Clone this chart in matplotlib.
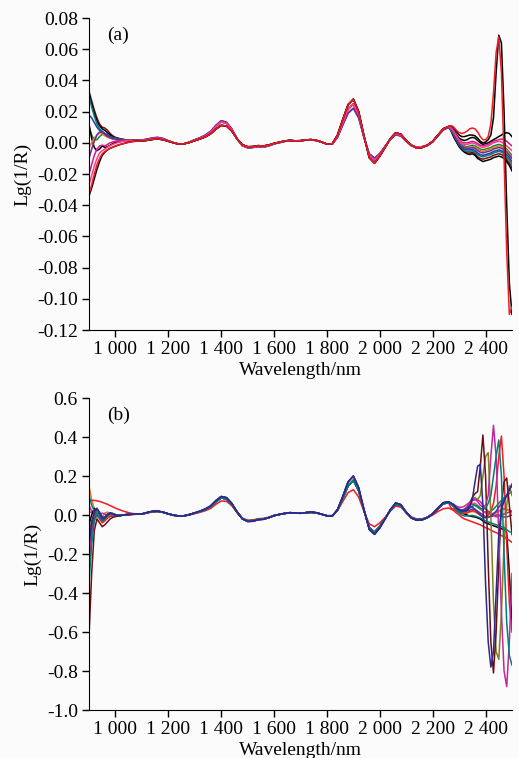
import numpy as np
import matplotlib.pyplot as plt

plt.rcParams['font.family'] = ['Liberation Serif', 'DejaVu Serif']

# wavelength grid (nm): fine at both ends, coarser in the middle
wl = np.concatenate([np.arange(900, 1100, 10), np.arange(1100, 2261, 20), np.arange(2270, 2501, 10)])

xticks = [1000, 1200, 1400, 1600, 1800, 2000, 2200, 2400]
xticklabels = ['1 000', '1 200', '1 400', '1 600', '1 800', '2 000', '2 200', '2 400']

# ---------------- panel (a) ----------------
a_yticks = [0.08, 0.06, 0.04, 0.02, 0.0, -0.02, -0.04, -0.06, -0.08, -0.10, -0.12]
a_yticklabels = ['0.08', '0.06', '0.04', '0.02', '0.00', '-0.02', '-0.04', '-0.06', '-0.08', '-0.10', '-0.12']

# middle part 1100-2260 nm
a_mid = [0.0015, 0.002, 0.0028, 0.003, 0.0024, 0.0012, 0.0, -0.0008, -0.0006, 0.0004,
         0.0018, 0.003, 0.0045, 0.0068, 0.0105, 0.0135, 0.0125, 0.0085, 0.0025, -0.0018,
         -0.003, -0.0028, -0.0022, -0.0026, -0.0018, -0.0005, 0.0002, 0.001, 0.0015, 0.0012,
         0.0013, 0.0018, 0.002, 0.0015, 0.0005, -0.0008, -0.0008, 0.004, 0.013, 0.0215,
         0.025, 0.018, 0.004, -0.008, -0.011, -0.0075, -0.0025, 0.0025, 0.0058, 0.0048,
         0.0012, -0.0018, -0.0028, -0.0025, -0.0015, 0.0008, 0.0048, 0.0088, 0.0102]
a_mid_hi = [0.0012, 0.0016, 0.0022, 0.0025, 0.002, 0.001, 0.0, -0.0008, -0.0006, 0.0002,
            0.0014, 0.0025, 0.0038, 0.0058, 0.0088, 0.0112, 0.0108, 0.0076, 0.0025, -0.0012,
            -0.0025, -0.0024, -0.0018, -0.002, -0.0014, -0.0003, 0.0004, 0.0012, 0.0016, 0.0013,
            0.0014, 0.0019, 0.0021, 0.0016, 0.0005, -0.0008, -0.0006, 0.005, 0.015, 0.0245,
            0.028, 0.02, 0.0045, -0.0095, -0.013, -0.0085, -0.003, 0.0028, 0.0065, 0.0055,
            0.0015, -0.0015, -0.0035, -0.003, -0.0015, 0.001, 0.005, 0.009, 0.0105]
a_mid_lo = [0.0018, 0.0024, 0.0032, 0.0035, 0.0028, 0.0014, 0.0001, -0.0008, -0.0006, 0.0005,
            0.002, 0.0033, 0.005, 0.0074, 0.0112, 0.0142, 0.0132, 0.009, 0.0028, -0.0018,
            -0.0032, -0.003, -0.0024, -0.0028, -0.002, -0.0007, 0.0001, 0.0009, 0.0014, 0.0011,
            0.0012, 0.0017, 0.0019, 0.0014, 0.0004, -0.0008, -0.0009, 0.0035, 0.0115, 0.019,
            0.0222, 0.016, 0.0035, -0.007, -0.0098, -0.0068, -0.0022, 0.0022, 0.0052, 0.0043,
            0.001, -0.002, -0.003, -0.0028, -0.0018, 0.0005, 0.0044, 0.0083, 0.0098]

# heads 900-1090 nm
a_head_darkred = [0.033, 0.027, 0.021, 0.016, 0.012, 0.010, 0.0095, 0.008, 0.006, 0.0045, 0.0035, 0.003, 0.0025, 0.0022, 0.002, 0.0018, 0.0017, 0.0016, 0.0015, 0.0015]
a_head_black1 = [0.032, 0.025, 0.019, 0.014, 0.011, 0.009, 0.008, 0.0065, 0.005, 0.004, 0.0032, 0.0028, 0.0024, 0.0021, 0.0019, 0.0017, 0.0016, 0.0015, 0.0015, 0.0015]
a_head_teal = [0.030, 0.023, 0.017, 0.012, 0.009, 0.0075, 0.006, 0.005, 0.004, 0.0034, 0.003, 0.0026, 0.0023, 0.002, 0.0019, 0.0017, 0.0016, 0.0015, 0.0015, 0.0015]
a_head_blue = [0.018, 0.016, 0.013, 0.010, 0.008, 0.0068, 0.006, 0.005, 0.004, 0.0033, 0.0028, 0.0024, 0.0021, 0.0019, 0.0018, 0.0017, 0.0016, 0.0016, 0.0016, 0.0017]
a_head_green = [0.010, 0.005, 0.002, 0.002, 0.004, 0.0055, 0.005, 0.004, 0.003, 0.0025, 0.0022, 0.002, 0.0019, 0.0018, 0.0017, 0.0016, 0.0016, 0.0015, 0.0015, 0.0015]
a_head_black2 = [0.012, 0.003, -0.003, -0.005, -0.004, -0.002, -0.003, -0.0025, -0.0015, -0.0005, 0.0003, 0.0008, 0.001, 0.0012, 0.0013, 0.0014, 0.0014, 0.0015, 0.0015, 0.0015]
a_head_orange = [-0.003, 0.0, 0.003, 0.005, 0.0065, 0.006, 0.0045, 0.0035, 0.003, 0.0025, 0.0022, 0.002, 0.0018, 0.0017, 0.0016, 0.0016, 0.0015, 0.0015, 0.0015, 0.0015]
a_head_purple = [-0.010, -0.004, 0.001, 0.005, 0.007, 0.0068, 0.0055, 0.0042, 0.0033, 0.0027, 0.0023, 0.002, 0.0019, 0.0018, 0.0017, 0.0017, 0.0016, 0.0016, 0.0017, 0.0017]
a_head_magenta = [-0.020, -0.014, -0.008, -0.004, -0.002, -0.0015, -0.002, -0.001, 0.0, 0.0006, 0.001, 0.0012, 0.0013, 0.0014, 0.0014, 0.0015, 0.0015, 0.0015, 0.0015, 0.0015]
a_head_pink = [-0.027, -0.021, -0.015, -0.010, -0.0065, -0.005, -0.004, -0.0028, -0.0018, -0.001, -0.0004, 0.0002, 0.0006, 0.0009, 0.0011, 0.0012, 0.0013, 0.0014, 0.0015, 0.0015]
a_head_red = [-0.033, -0.027, -0.020, -0.014, -0.010, -0.007, -0.0055, -0.0045, -0.0035, -0.0027, -0.002, -0.0014, -0.0009, -0.0005, -0.0001, 0.0003, 0.0006, 0.0008, 0.001, 0.0012]
a_head_black3 = [-0.034, -0.029, -0.023, -0.017, -0.012, -0.008, -0.006, -0.0045, -0.0035, -0.0028, -0.0022, -0.0015, -0.001, -0.0005, 0.0, 0.0004, 0.0007, 0.001, 0.0012, 0.0013]

# tails 2270-2500 nm
a_tail_black2 = [0.010, 0.008, 0.005, 0.003, 0.002, 0.0015, 0.002, 0.003, 0.0035, 0.003, 0.0015, 0.0, -0.001, -0.0005, 0.0, 0.001, 0.002, 0.003, 0.004, 0.005, 0.006, 0.0065, 0.006, 0.004]
a_tail_magenta = [0.010, 0.0075, 0.0045, 0.002, 0.0005, 0.0, 0.0, 0.0005, 0.001, 0.0005, -0.0005, -0.0015, -0.002, -0.0015, -0.001, 0.0, 0.001, 0.0015, 0.002, 0.0025, 0.002, 0.001, -0.0005, -0.002]
a_tail_pink = [0.0095, 0.007, 0.004, 0.0015, 0.0, -0.001, -0.001, -0.0005, 0.0, -0.0005, -0.0015, -0.0025, -0.003, -0.0025, -0.002, -0.001, 0.0, 0.0005, 0.001, 0.0005, -0.0005, -0.002, -0.0035, -0.005]
a_tail_green = [0.0095, 0.0065, 0.0035, 0.0005, -0.001, -0.002, -0.0025, -0.002, -0.0015, -0.002, -0.003, -0.004, -0.0045, -0.004, -0.0035, -0.003, -0.002, -0.0015, -0.001, -0.0015, -0.0025, -0.004, -0.006, -0.008]
a_tail_orange = [0.009, 0.006, 0.003, 0.0, -0.0015, -0.0025, -0.003, -0.003, -0.0025, -0.003, -0.004, -0.005, -0.0055, -0.005, -0.0045, -0.004, -0.003, -0.0025, -0.002, -0.0025, -0.0035, -0.005, -0.007, -0.009]
a_tail_purple = [0.009, 0.0055, 0.0025, -0.0005, -0.002, -0.003, -0.0035, -0.0035, -0.003, -0.0035, -0.005, -0.006, -0.0065, -0.006, -0.0055, -0.005, -0.004, -0.0035, -0.003, -0.0035, -0.0045, -0.006, -0.008, -0.010]
a_tail_blue = [0.0085, 0.005, 0.002, -0.001, -0.003, -0.004, -0.0045, -0.0045, -0.004, -0.005, -0.0065, -0.0075, -0.008, -0.0075, -0.007, -0.0065, -0.0055, -0.005, -0.0045, -0.005, -0.006, -0.0075, -0.0095, -0.012]
a_tail_teal = [0.008, 0.0045, 0.0015, -0.0015, -0.0035, -0.005, -0.0055, -0.0055, -0.005, -0.006, -0.0075, -0.0085, -0.009, -0.0085, -0.008, -0.0075, -0.0065, -0.006, -0.0055, -0.006, -0.007, -0.009, -0.011, -0.014]
a_tail_darkred = [0.008, 0.004, 0.001, -0.002, -0.004, -0.0055, -0.0065, -0.0065, -0.006, -0.007, -0.009, -0.010, -0.0105, -0.010, -0.0095, -0.009, -0.008, -0.0075, -0.007, -0.0075, -0.0085, -0.0105, -0.013, -0.016]
a_tail_black1 = [0.0075, 0.0035, 0.0005, -0.0025, -0.0045, -0.006, -0.007, -0.0075, -0.007, -0.008, -0.010, -0.011, -0.012, -0.0115, -0.011, -0.0105, -0.0095, -0.009, -0.0085, -0.009, -0.010, -0.012, -0.0145, -0.018]
a_tail_red = [0.011, 0.010, 0.008, 0.0065, 0.006, 0.0065, 0.0075, 0.009, 0.0095, 0.009, 0.007, 0.004, 0.002, 0.002, 0.004, 0.012, 0.032, 0.058, 0.068, 0.045, -0.01, -0.07, -0.11, -0.105]
a_tail_black3 = [0.011, 0.0095, 0.007, 0.005, 0.004, 0.004, 0.0045, 0.005, 0.005, 0.0045, 0.003, 0.001, 0.0, 0.0005, 0.002, 0.005, 0.016, 0.045, 0.069, 0.064, 0.02, -0.04, -0.09, -0.11]

curves_a = [
    ('#7b1010', a_head_darkred, a_mid, a_tail_darkred),
    ('#000000', a_head_black1, a_mid_hi, a_tail_black1),
    ('#00807a', a_head_teal, a_mid, a_tail_teal),
    ('#2b3aa0', a_head_blue, a_mid_lo, a_tail_blue),
    ('#0a8a3a', a_head_green, a_mid, a_tail_green),
    ('#000000', a_head_black2, a_mid_hi, a_tail_black2),
    ('#f07a1a', a_head_orange, a_mid, a_tail_orange),
    ('#6a2c9a', a_head_purple, a_mid_lo, a_tail_purple),
    ('#d01a8a', a_head_magenta, a_mid, a_tail_magenta),
    ('#ff3d8b', a_head_pink, a_mid, a_tail_pink),
    ('#000000', a_head_black3, a_mid_hi, a_tail_black3),
    ('#ee1c24', a_head_red, a_mid_hi, a_tail_red),
]

# ---------------- panel (b) ----------------
b_yticks = [0.6, 0.4, 0.2, 0.0, -0.2, -0.4, -0.6, -0.8, -1.0]
b_yticklabels = ['0.6', '0.4', '0.2', '0.0', '-0.2', '-0.4', '-0.6', '-0.8', '-1.0']

b_mid = [0.005, 0.012, 0.018, 0.019, 0.014, 0.006, -0.001, -0.005, -0.004, 0.002,
         0.01, 0.018, 0.028, 0.043, 0.068, 0.088, 0.082, 0.055, 0.015, -0.018,
         -0.03, -0.029, -0.022, -0.02, -0.013, -0.003, 0.003, 0.008, 0.012, 0.01,
         0.009, 0.012, 0.014, 0.011, 0.004, -0.004, -0.005, 0.025, 0.085, 0.15,
         0.178, 0.125, 0.025, -0.065, -0.088, -0.058, -0.018, 0.025, 0.055, 0.047,
         0.012, -0.014, -0.024, -0.022, -0.012, 0.006, 0.033, 0.058, 0.063]
b_mid_hi = [0.006, 0.013, 0.019, 0.02, 0.015, 0.006, -0.001, -0.005, -0.004, 0.003,
            0.011, 0.02, 0.031, 0.047, 0.074, 0.095, 0.089, 0.06, 0.017, -0.02,
            -0.033, -0.032, -0.024, -0.022, -0.014, -0.003, 0.003, 0.008, 0.012, 0.01,
            0.009, 0.012, 0.015, 0.012, 0.004, -0.004, -0.006, 0.028, 0.096, 0.17,
            0.2, 0.14, 0.028, -0.073, -0.099, -0.066, -0.02, 0.028, 0.062, 0.053,
            0.014, -0.016, -0.027, -0.025, -0.014, 0.006, 0.036, 0.063, 0.068]
b_mid_lo = [0.004, 0.01, 0.016, 0.018, 0.013, 0.005, -0.002, -0.006, -0.005, 0.0,
            0.007, 0.014, 0.022, 0.034, 0.055, 0.072, 0.07, 0.048, 0.012, -0.016,
            -0.026, -0.025, -0.019, -0.017, -0.011, -0.002, 0.004, 0.009, 0.012, 0.01,
            0.009, 0.012, 0.013, 0.01, 0.004, -0.003, -0.002, 0.022, 0.07, 0.115,
            0.13, 0.092, 0.018, -0.045, -0.06, -0.04, -0.012, 0.02, 0.046, 0.04,
            0.012, -0.01, -0.02, -0.02, -0.014, 0.0, 0.018, 0.032, 0.036]

b_head_black = [-0.05, 0.0, 0.035, 0.02, -0.01, -0.03, -0.02, -0.005, 0.005, 0.002, -0.005, -0.005, -0.002, 0.0, 0.002, 0.003, 0.004, 0.004, 0.005, 0.005]
b_head_red = [0.07, 0.075, 0.075, 0.073, 0.07, 0.065, 0.06, 0.055, 0.048, 0.042, 0.036, 0.03, 0.025, 0.02, 0.016, 0.012, 0.009, 0.007, 0.005, 0.004]
b_head_red2 = [-0.25, -0.08, 0.0, 0.01, -0.02, -0.04, -0.03, -0.015, -0.005, 0.0, 0.0, -0.002, -0.002, 0.0, 0.001, 0.002, 0.003, 0.003, 0.004, 0.004]
b_head_navy = [-0.15, -0.05, 0.02, 0.035, 0.01, -0.02, -0.015, 0.0, 0.008, 0.005, 0.0, -0.003, -0.002, 0.0, 0.002, 0.003, 0.004, 0.005, 0.005, 0.006]
b_head_darkred = [-0.62, -0.3, -0.08, -0.02, -0.04, -0.06, -0.05, -0.035, -0.02, -0.012, -0.008, -0.005, -0.003, -0.001, 0.001, 0.002, 0.003, 0.004, 0.005, 0.005]
b_head_magenta = [-0.2, -0.1, -0.03, 0.0, -0.01, -0.02, -0.01, 0.0, 0.005, 0.003, 0.0, -0.002, -0.001, 0.0, 0.002, 0.003, 0.004, 0.004, 0.005, 0.005]
b_head_teal = [-0.35, -0.15, -0.03, 0.01, 0.0, -0.015, -0.01, 0.005, 0.01, 0.006, 0.0, -0.003, -0.002, 0.0, 0.002, 0.003, 0.004, 0.005, 0.005, 0.005]
b_head_olive = [-0.08, -0.03, 0.01, 0.02, 0.0, -0.02, -0.02, -0.01, 0.0, 0.002, 0.0, -0.002, -0.001, 0.0, 0.002, 0.003, 0.004, 0.004, 0.005, 0.005]
b_head_magenta2 = [0.05, 0.02, 0.0, -0.01, 0.0, 0.01, 0.005, -0.005, -0.008, -0.005, -0.003, -0.002, 0.0, 0.001, 0.002, 0.003, 0.004, 0.004, 0.005, 0.005]
b_head_green = [-0.3, -0.1, -0.02, 0.02, 0.01, -0.01, -0.02, -0.01, 0.0, 0.004, 0.002, 0.0, 0.0, 0.001, 0.002, 0.003, 0.004, 0.005, 0.005, 0.005]
b_head_purple = [-0.22, -0.08, -0.01, 0.015, 0.0, -0.02, -0.025, -0.015, -0.005, 0.0, 0.0, -0.002, -0.002, 0.0, 0.001, 0.002, 0.003, 0.004, 0.005, 0.005]
b_head_orange = [0.15, 0.08, 0.03, 0.0, -0.02, -0.01, 0.01, 0.015, 0.008, 0.0, -0.004, -0.004, -0.002, 0.0, 0.002, 0.003, 0.004, 0.004, 0.005, 0.005]
b_head_teal2 = [0.1, 0.05, 0.02, 0.0, -0.015, -0.03, -0.02, 0.0, 0.01, 0.008, 0.002, -0.002, -0.002, 0.0, 0.002, 0.003, 0.004, 0.005, 0.005, 0.005]
b_head_blue = [-0.12, -0.04, 0.01, 0.03, 0.015, -0.01, -0.01, 0.005, 0.012, 0.008, 0.002, -0.002, -0.002, 0.0, 0.002, 0.003, 0.004, 0.005, 0.006, 0.006]
b_head_pink = [0.02, 0.01, 0.005, 0.0, -0.01, -0.02, -0.012, 0.0, 0.005, 0.004, 0.0, -0.002, -0.001, 0.0, 0.002, 0.003, 0.004, 0.004, 0.005, 0.005]

b_tail_navy = [0.06, 0.05, 0.035, 0.025, 0.02, 0.02, 0.025, 0.04, 0.08, 0.17, 0.25, 0.26, 0.05, -0.35, -0.65, -0.78, -0.7, -0.4, -0.1, 0.03, 0.07, 0.1, 0.13, 0.15]
b_tail_darkred = [0.06, 0.05, 0.035, 0.025, 0.02, 0.025, 0.035, 0.06, 0.09, 0.11, 0.12, 0.25, 0.41, 0.2, -0.25, -0.65, -0.81, -0.6, -0.25, 0.05, 0.17, 0.19, 0.05, -0.1]
b_tail_olive = [0.06, 0.05, 0.035, 0.025, 0.02, 0.025, 0.04, 0.06, 0.08, 0.09, 0.08, 0.1, 0.2, 0.3, 0.32, 0.0, -0.45, -0.7, -0.74, -0.5, -0.15, 0.05, 0.15, 0.1]
b_tail_magenta = [0.06, 0.05, 0.035, 0.025, 0.02, 0.025, 0.04, 0.06, 0.075, 0.08, 0.07, 0.05, 0.04, 0.05, 0.1, 0.3, 0.46, 0.3, -0.1, -0.5, -0.8, -0.88, -0.65, -0.3]
b_tail_teal = [0.055, 0.045, 0.03, 0.02, 0.015, 0.018, 0.025, 0.035, 0.045, 0.05, 0.045, 0.035, 0.03, 0.035, 0.06, 0.1, 0.2, 0.3, 0.385, 0.2, -0.2, -0.55, -0.72, -0.77]
b_tail_red2 = [0.035, 0.03, 0.02, 0.012, 0.008, 0.008, 0.012, 0.018, 0.022, 0.02, 0.01, 0.0, -0.01, -0.01, 0.0, 0.02, 0.06, 0.15, 0.3, 0.405, 0.2, -0.15, -0.45, -0.6]
b_tail_black = [0.058, 0.045, 0.03, 0.018, 0.01, 0.005, 0.0, -0.005, -0.008, -0.01, -0.015, -0.02, -0.03, -0.04, -0.045, -0.05, -0.055, -0.06, -0.065, -0.07, -0.075, -0.09, -0.3, -0.55]
b_tail_red = [0.03, 0.022, 0.01, 0.0, -0.012, -0.02, -0.025, -0.03, -0.035, -0.04, -0.045, -0.05, -0.058, -0.065, -0.07, -0.078, -0.085, -0.09, -0.098, -0.105, -0.112, -0.12, -0.13, -0.14]
b_tail_magenta2 = [0.06, 0.055, 0.045, 0.04, 0.04, 0.045, 0.055, 0.065, 0.075, 0.08, 0.078, 0.07, 0.05, 0.03, 0.02, 0.01, 0.0, -0.01, -0.005, 0.0, 0.005, 0.01, 0.015, 0.02]
b_tail_green = [0.06, 0.05, 0.038, 0.03, 0.025, 0.03, 0.04, 0.05, 0.055, 0.05, 0.04, 0.03, 0.02, 0.015, 0.015, 0.02, 0.03, 0.045, 0.06, 0.075, 0.09, 0.1, 0.11, 0.12]
b_tail_purple = [0.058, 0.046, 0.032, 0.022, 0.015, 0.015, 0.02, 0.025, 0.03, 0.028, 0.02, 0.01, 0.0, -0.008, -0.01, -0.008, -0.005, 0.0, 0.0, -0.005, -0.01, -0.01, -0.005, 0.0]
b_tail_orange = [0.057, 0.044, 0.03, 0.018, 0.01, 0.008, 0.01, 0.015, 0.018, 0.015, 0.008, 0.0, -0.008, -0.012, -0.01, -0.005, 0.0, 0.01, 0.02, 0.03, 0.035, 0.03, 0.02, 0.01]
b_tail_teal2 = [0.055, 0.04, 0.025, 0.01, 0.0, -0.005, -0.005, -0.003, -0.002, -0.005, -0.01, -0.015, -0.022, -0.03, -0.035, -0.04, -0.045, -0.05, -0.055, -0.06, -0.065, -0.075, -0.085, -0.09]
b_tail_blue = [0.062, 0.05, 0.038, 0.03, 0.025, 0.028, 0.035, 0.04, 0.04, 0.03, 0.015, 0.0, -0.01, -0.015, -0.012, -0.005, 0.005, 0.02, 0.04, 0.06, 0.08, 0.1, 0.13, 0.16]
b_tail_pink = [0.06, 0.048, 0.035, 0.028, 0.025, 0.03, 0.04, 0.05, 0.06, 0.06, 0.05, 0.035, 0.02, 0.01, 0.005, 0.005, 0.01, 0.015, 0.02, 0.025, 0.03, 0.03, 0.025, 0.02]

curves_b = [
    ('#0a8a3a', b_head_green, b_mid, b_tail_green),
    ('#6a2c9a', b_head_purple, b_mid, b_tail_purple),
    ('#f07a1a', b_head_orange, b_mid, b_tail_orange),
    ('#ff3d8b', b_head_pink, b_mid, b_tail_pink),
    ('#c0289a', b_head_magenta2, b_mid, b_tail_magenta2),
    ('#000000', b_head_black, b_mid_hi, b_tail_black),
    ('#ee1c24', b_head_red, b_mid_lo, b_tail_red),
    ('#ee1c24', b_head_red2, b_mid, b_tail_red2),
    ('#808020', b_head_olive, b_mid, b_tail_olive),
    ('#6b0f14', b_head_darkred, b_mid, b_tail_darkred),
    ('#c0289a', b_head_magenta, b_mid, b_tail_magenta),
    ('#00807a', b_head_teal, b_mid, b_tail_teal),
    ('#00807a', b_head_teal2, b_mid, b_tail_teal2),
    ('#3a3aa8', b_head_blue, b_mid_hi, b_tail_blue),
    ('#2b2a8a', b_head_navy, b_mid_hi, b_tail_navy),
]


def draw(ax, curves, ylim, yticks, yticklabels, tag):
    for color, head, mid, tail in curves:
        ax.plot(wl, head + mid + tail, color=color, lw=1.1)
    ax.set_xlim(900, 2500)
    ax.set_ylim(*ylim)
    ax.set_xticks(xticks)
    ax.set_xticklabels(xticklabels)
    ax.set_yticks(yticks)
    ax.set_yticklabels(yticklabels)
    ax.spines['top'].set_visible(False)
    ax.spines['right'].set_visible(False)
    ax.tick_params(direction='out', length=5, width=1, labelsize=14, pad=3)
    ax.set_xlabel('Wavelength/nm', fontsize=14, labelpad=3)
    ax.set_ylabel('Lg(1/R)', fontsize=14, labelpad=4)
    ax.text(0.043, 0.945, tag, transform=ax.transAxes, fontsize=14, va='center')
    ax.set_facecolor('#fbfbfb')


fig = plt.figure(figsize=(5.19, 7.58), dpi=100, facecolor='#fbfbfb')
ax1 = fig.add_axes([0.1715, 0.5646, 0.815, 0.4116])
ax2 = fig.add_axes([0.1715, 0.0633, 0.815, 0.4116])

draw(ax1, curves_a, (-0.12, 0.08), a_yticks, a_yticklabels, '(a)')
draw(ax2, curves_b, (-1.0, 0.6), b_yticks, b_yticklabels, '(b)')

fig.savefig('out.png', dpi=100, facecolor=fig.get_facecolor())
